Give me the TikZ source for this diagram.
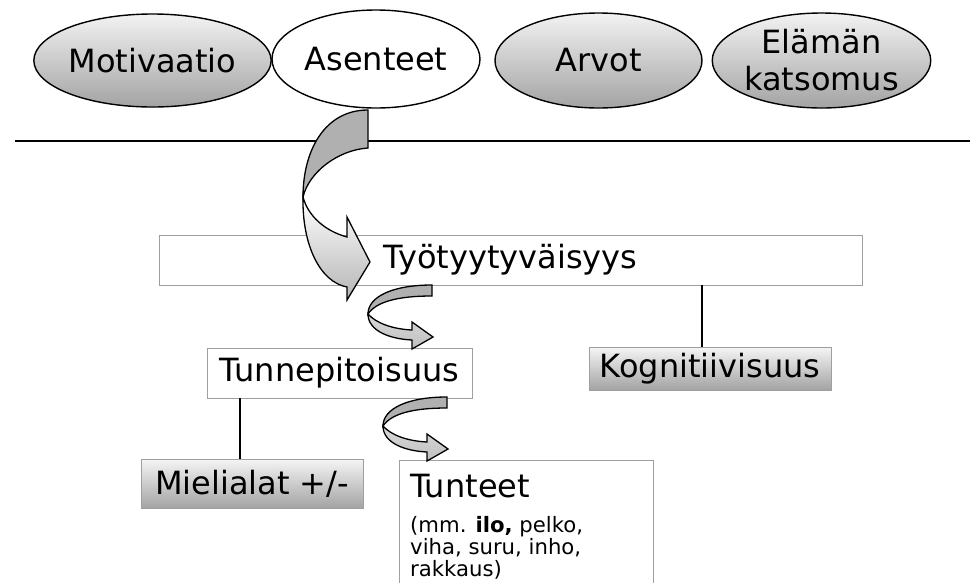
\documentclass[tikz,border=0pt]{standalone}
\usepackage{fontspec}
\setmainfont{DejaVu Sans}
\usetikzlibrary{shapes.geometric}
\begin{document}
\begin{tikzpicture}[x=1pt,y=-1pt,
  bigfont/.style={font=\fontsize{32}{39}\selectfont},
  ell/.style={ellipse, draw=black, line width=1.4pt, inner sep=0pt, bigfont, align=center},
  shadeell/.style={ell, top color=gray!10, bottom color=gray!72},
  wbox/.style={rectangle, draw=gray!75, line width=0.8pt, fill=white, inner sep=0pt, bigfont},
  gbox/.style={wbox, top color=gray!8, bottom color=gray!72},
  conn/.style={draw=black, line width=1.2pt},
  backband/.style={draw=black, line width=1.3pt, fill=gray!62},
  frontband/.style={draw=black, line width=1.3pt, top color=white, bottom color=gray!58},
  smallfront/.style={draw=black, line width=1.3pt, top color=gray!30, bottom color=gray!50},
]
\useasboundingbox (0,0) rectangle (970,582);

% top ellipses
\node[shadeell, minimum width=209pt, minimum height=93pt] (mot) at (152.5,60.5) {Motivaatio};
\node[ell, fill=white, minimum width=208pt, minimum height=98pt] (ase) at (376,59) {Asenteet};
\node[shadeell, minimum width=213pt, minimum height=95pt] (ela) at (821.5,60.5) {Elämän\\[-2pt]katsomus};
\node[shadeell, minimum width=207pt, minimum height=95pt] (arv) at (598.5,60.5) {Arvot};

% separator line
\coordinate (sepL) at (15,141);
\coordinate (sepR) at (970,141);
\draw[line width=2pt] (sepL) -- (sepR);

% boxes
\node[wbox, minimum width=703pt, minimum height=50pt] (tyo) at (510.5,260) {Työtyytyväisyys};
\node[wbox, minimum width=265pt, minimum height=50pt] (tunne) at (339.5,373) {Tunnepitoisuus};
\node[gbox, minimum width=242pt, minimum height=43pt] (kog) at (710,368.5) {Kognitiivisuus};
\node[gbox, minimum width=222pt, minimum height=49pt] (miel) at (252,483.5) {Mielialat +/-};
\node[wbox, anchor=north west, minimum width=254pt, minimum height=140pt] (tunteet) at (399,460) {};
\node[anchor=north west, inner sep=0pt] (tunteettxt) at (410,474)
  {\fontsize{32}{32}\selectfont Tunteet};
\node[anchor=north west, align=left, inner sep=0pt, font=\fontsize{21.2}{22.2}\selectfont] (tunteetsub) at (410,516)
  {(mm. \textbf{ilo,} pelko,\\viha, suru, inho,\\rakkaus)};

% connectors
\coordinate (cx1) at (702,0);
\coordinate (cx2) at (240,0);
\draw[conn] (tyo.south -| cx1) -- (kog.north -| cx1);
\draw[conn] (tunne.south -| cx2) -- (miel.north -| cx2);

% big curved arrow from Asenteet to Tyotyytyvaisyys
\draw[backband] (368,110) .. controls (325,110) and (303,150) .. (303,197)
  .. controls (309,172) and (338,150) .. (368,148) -- cycle;
\draw[frontband] (303,197) .. controls (302,245) and (320,282) .. (347,287)
  -- (347,300) -- (370,262) -- (347,217) -- (347,237)
  .. controls (325,231) and (308,216) .. (303,197) -- cycle;

% small curved arrow 1
\begin{scope}[shift={(432,285)}]
  \draw[backband] (0,0) .. controls (-40,0) and (-64,12) .. (-64,29)
    .. controls (-56,17) and (-35,11) .. (0,11) -- cycle;
  \draw[smallfront] (-64,29) .. controls (-64,46) and (-42,54) .. (-20,55)
    -- (-20,64) -- (1,52) -- (-20,37) -- (-20,45)
    .. controls (-40,44) and (-56,38) .. (-64,29) -- cycle;
\end{scope}

% small curved arrow 2
\begin{scope}[shift={(447,397)}]
  \draw[backband] (0,0) .. controls (-40,0) and (-64,12) .. (-64,29)
    .. controls (-56,17) and (-35,11) .. (0,11) -- cycle;
  \draw[smallfront] (-64,29) .. controls (-64,46) and (-42,54) .. (-20,55)
    -- (-20,64) -- (1,52) -- (-20,37) -- (-20,45)
    .. controls (-40,44) and (-56,38) .. (-64,29) -- cycle;
\end{scope}
\end{tikzpicture}
\end{document}
